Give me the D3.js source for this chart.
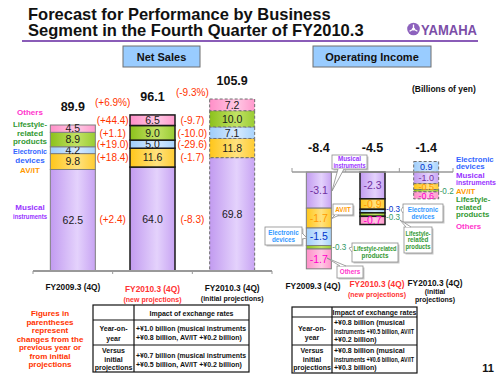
<!DOCTYPE html>
<html>
<head>
<meta charset="utf-8">
<script src="https://cdn.jsdelivr.net/npm/d3@7"></script>
<style>
  body { margin: 0; background: #fff; }
  svg { display: block; font-family: "Liberation Sans", Arial, sans-serif; }
</style>
</head>
<body>
<div id="chart"></div>
<script>
const width = 500;
const height = 375;

// segments, bottom of the stack first
const segments = ['Musical instruments', 'AV/IT', 'Electronic devices', 'Lifestyle-related products', 'Others'];
const periods = ['FY2009.3 (4Q)', 'FY2010.3 (4Q) new', 'FY2010.3 (4Q) initial'];

// Net sales, billions of yen
const salesMusical = [62.5, 64.0, 69.8];
const salesAvit = [9.8, 11.6, 11.8];
const salesElectronic = [4.2, 5.0, 7.1];
const salesLifestyle = [8.9, 9.0, 10.0];
const salesOthers = [4.5, 6.5, 7.2];
const salesTotals = [89.9, 96.1, 105.9];
const salesYoY = ['(+2.4)', '(+18.4)', '(+19.0)', '(+1.1)', '(+44.4)'];
const salesVsInitial = ['(-8.3)', '(-1.7)', '(-29.6)', '(-10.0)', '(-9.7)'];
const salesTotalChanges = ['(+6.9%)', '(-9.3%)'];

// Operating income, billions of yen
const opMusical = [-3.1, -2.3, -1.0];
const opAvit = [-1.7, -0.9, -0.5];
const opElectronic = [-1.5, -0.3, 0.9];
const opLifestyle = [-0.3, -0.3, -0.2];
const opOthers = [-1.7, -0.7, -0.6];
const opTotals = [-8.4, -4.5, -1.4];

const fxSalesRows = [
  { head: ['Year-on-', 'year'], body: ['+¥1.0 billion (musical instruments', '+¥0.8 billion, AV/IT +¥0.2 billion)'] },
  { head: ['Versus', 'initial', 'projections'], body: ['+¥0.7 billion (musical instruments', '+¥0.5 billion, AV/IT +¥0.2 billion)'] }
];
const fxOpRows = [
  { head: ['Year-on-', 'year'], body: ['+¥0.8 billion (musical', 'instruments +¥0.5 billion, AV/IT', '+¥0.2 billion)'] },
  { head: ['Versus', 'initial', 'projections'], body: ['+¥0.8 billion (musical', 'instruments +¥0.6 billion, AV/IT', '+¥0.3 billion)'] }
];

// colours
const fills = {
  'Musical instruments': ['#c29bf0', '#e4d2fc', '#c8a4f3'],
  'AV/IT': ['#ffc61a', '#ffe27f', '#ffcc33'],
  'Electronic devices': ['#9fcdfa', '#d6eaff', '#a8d3fc'],
  'Lifestyle-related products': ['#8cc11c', '#c2e265', '#99cc33'],
  'Others': ['#ff8fc8', '#ffc8e4', '#ff99cc']
};
const legendColor = {
  'Musical instruments': '#9933ff',
  'AV/IT': '#ff9900',
  'Electronic devices': '#3366ff',
  'Lifestyle-related products': '#339933',
  'Others': '#ff33cc'
};
const opValueColor = {
  'Musical instruments': '#7030a0',
  'AV/IT': '#ff9900',
  'Electronic devices': '#0033cc',
  'Lifestyle-related products': '#339966',
  'Others': '#ff00cc'
};
const barStroke = ['#7f7f7f', '#1a1a1a', '#6f6f6f'];
const barStrokeW = [1, 1.5, 1];
const barDash = [null, null, '3,2'];
const red = '#ff3300';

const svg = d3.select('#chart')
  .append('svg')
  .attr('width', width)
  .attr('height', height)
  .attr('viewBox', `0 0 ${width} ${height}`);

svg.append('rect').attr('width', width).attr('height', height).attr('fill', '#fff');

// squeeze a text into a width if it runs over
function fit(sel, maxW) {
  sel.each(function () {
    if (this.getComputedTextLength() > maxW) {
      d3.select(this).attr('textLength', maxW).attr('lengthAdjust', 'spacingAndGlyphs');
    }
  });
  return sel;
}

// gradients for the bar segments
const defs = svg.append('defs');
segments.forEach((s, i) => {
  const g = defs.append('linearGradient').attr('id', 'grad' + i)
    .attr('x1', 0).attr('x2', 1).attr('y1', 0).attr('y2', 0);
  g.append('stop').attr('offset', '0%').attr('stop-color', fills[s][0]);
  g.append('stop').attr('offset', '60%').attr('stop-color', fills[s][1]);
  g.append('stop').attr('offset', '100%').attr('stop-color', fills[s][2]);
});

// ---------- header ----------
fit(svg.append('text').attr('x', 28).attr('y', 20)
  .attr('font-size', 16.5).attr('font-weight', 'bold').attr('fill', '#111')
  .text('Forecast for Performance by Business'), 304);
fit(svg.append('text').attr('x', 28).attr('y', 36)
  .attr('font-size', 16.5).attr('font-weight', 'bold').attr('fill', '#111')
  .text('Segment in the Fourth Quarter of FY2010.3'), 337);
svg.append('line').attr('x1', 22).attr('x2', 478).attr('y1', 41).attr('y2', 41)
  .attr('stroke', '#8a5cb8').attr('stroke-width', 2);

// logo
const logo = svg.append('g').attr('transform', 'translate(413.5,29)');
logo.append('circle').attr('r', 6.3).attr('fill', '#8d62bd');
d3.range(3).forEach(k => {
  logo.append('line').attr('x1', 0).attr('y1', 0)
    .attr('x2', 4.5 * Math.cos(k * 2 * Math.PI / 3 - Math.PI / 2))
    .attr('y2', 4.5 * Math.sin(k * 2 * Math.PI / 3 - Math.PI / 2))
    .attr('stroke', '#fff').attr('stroke-width', 1.3);
});
logo.append('circle').attr('r', 1.6).attr('fill', '#fff');
svg.append('text').attr('x', 421).attr('y', 34.5)
  .attr('font-size', 14).attr('font-weight', 'bold').attr('fill', '#7b4ea8')
  .attr('textLength', 56).attr('lengthAdjust', 'spacingAndGlyphs')
  .text('YAMAHA');

// section boxes
[['Net Sales', 123, 77], ['Operating Income', 313, 118]].forEach(([t, x, w]) => {
  svg.append('rect').attr('x', x).attr('y', 46).attr('width', w).attr('height', 21)
    .attr('fill', '#99ccff').attr('stroke', '#6f6f6f').attr('stroke-width', 1);
  svg.append('text').attr('x', x + w / 2).attr('y', 60.5).attr('text-anchor', 'middle')
    .attr('font-size', 11).attr('font-weight', 'bold').attr('fill', '#111').text(t);
});

svg.append('text').attr('x', 412).attr('y', 92)
  .attr('font-size', 8.5).attr('font-weight', 'bold').attr('fill', '#111')
  .text('(Billions of yen)');

// ---------- data tables ----------
const salesTable = periods.map((p, i) => ({
  period: p,
  'Musical instruments': salesMusical[i],
  'AV/IT': salesAvit[i],
  'Electronic devices': salesElectronic[i],
  'Lifestyle-related products': salesLifestyle[i],
  'Others': salesOthers[i]
}));
const opTable = periods.map((p, i) => ({
  period: p,
  'Musical instruments': opMusical[i],
  'AV/IT': opAvit[i],
  'Electronic devices': opElectronic[i],
  'Lifestyle-related products': opLifestyle[i],
  'Others': opOthers[i]
}));

// ---------- net sales chart ----------
const xSales = d3.scalePoint().domain(periods).range([33, 272]).padding(0.5);
const ySales = d3.scaleLinear().domain([0, 100]).range([271, 108.6]);
const barW = 45;
const salesStack = d3.stack().keys(segments)(salesTable);

const salesG = svg.append('g');
salesStack.forEach((layer, si) => {
  salesG.selectAll(null)
    .data(layer)
    .join('rect')
    .attr('x', d => xSales(d.data.period) - barW / 2)
    .attr('y', d => ySales(d[1]))
    .attr('width', barW)
    .attr('height', d => ySales(d[0]) - ySales(d[1]))
    .attr('fill', `url(#grad${si})`)
    .attr('stroke', (d, i) => barStroke[i])
    .attr('stroke-width', (d, i) => barStrokeW[i])
    .attr('stroke-dasharray', (d, i) => barDash[i]);

  salesG.selectAll(null)
    .data(layer)
    .join('text')
    .attr('x', d => xSales(d.data.period))
    .attr('y', d => ySales((d[0] + d[1]) / 2) + 3.8)
    .attr('text-anchor', 'middle')
    .attr('font-size', 10.5).attr('fill', '#1a1a1a')
    .text(d => (d[1] - d[0]).toFixed(1));
});

// axis
const step = xSales.step();
svg.append('line')
  .attr('x1', xSales(periods[0]) - step / 2).attr('x2', xSales(periods[2]) + step / 2)
  .attr('y1', ySales(0)).attr('y2', ySales(0))
  .attr('stroke', '#999').attr('stroke-width', 2);
svg.selectAll(null)
  .data([0, 1, 2, 3])
  .join('line')
  .attr('x1', i => xSales(periods[0]) - step / 2 + i * step)
  .attr('x2', i => xSales(periods[0]) - step / 2 + i * step)
  .attr('y1', ySales(0)).attr('y2', ySales(0) + 3)
  .attr('stroke', '#999').attr('stroke-width', 1);

// totals
svg.selectAll(null)
  .data(salesTotals)
  .join('text')
  .attr('x', (d, i) => xSales(periods[i]))
  .attr('y', d => ySales(d) - 14)
  .attr('text-anchor', 'middle')
  .attr('font-size', 12.5).attr('font-weight', 'bold').attr('fill', '#111')
  .text(d => d.toFixed(1));

// change labels, placed between the bars at the middle of the new-projection segments
const mid = salesStack.map(layer => (layer[1][0] + layer[1][1]) / 2);
[salesYoY, salesVsInitial].forEach((labels, k) => {
  svg.selectAll(null)
    .data(labels)
    .join('text')
    .attr('x', xSales(periods[0]) + step / 2 + k * step)
    .attr('y', (d, i) => ySales(mid[i]) + 3.8)
    .attr('text-anchor', 'middle')
    .attr('font-size', 10).attr('fill', red)
    .text(d => d);
});
svg.selectAll(null)
  .data(salesTotalChanges)
  .join('text')
  .attr('x', (d, k) => xSales(periods[0]) + step / 2 + k * step)
  .attr('y', (d, k) => ySales(salesTotals[k]) - 19)
  .attr('text-anchor', 'middle')
  .attr('font-size', 10).attr('fill', red)
  .text(d => d);

// left legend
const leftLegend = [
  ['Others', ['Others'], [112]],
  ['Lifestyle-related products', ['Lifestyle-', 'related', 'products'], [124, 132.5, 141]],
  ['Electronic devices', ['Electronic', 'devices'], [151, 159.5]],
  ['AV/IT', ['AV/IT'], [170]],
  ['Musical instruments', ['Musical', 'instruments'], [207, 215.5]]
];
leftLegend.forEach(([key, lines, ys]) => {
  lines.forEach((l, i) => {
    fit(svg.append('text').attr('x', 30).attr('y', ys[i] + 3)
      .attr('text-anchor', 'middle').attr('font-size', 8).attr('font-weight', 'bold')
      .attr('fill', legendColor[key]).text(l), 34);
  });
});

// category labels
function catLabel(x, lines) {
  lines.forEach(([t, y, size, color]) => {
    svg.append('text').attr('x', x).attr('y', y).attr('text-anchor', 'middle')
      .attr('font-size', size).attr('font-weight', 'bold').attr('fill', color).text(t);
  });
}
catLabel(xSales(periods[0]), [['FY2009.3 (4Q)', 290, 8.3, '#111']]);
catLabel(xSales(periods[1]), [['FY2010.3 (4Q)', 292, 8.3, '#ff3333'], ['(new projections)', 302, 7, '#ff3333']]);
catLabel(xSales(periods[2]), [['FY2010.3 (4Q)', 291, 8.3, '#111'], ['(initial projections)', 300.5, 7, '#111']]);

// ---------- operating income chart ----------
const xOp = d3.scalePoint().domain(periods).range([292, 453]).padding(0.5);
const yOp = d3.scaleLinear().domain([0, -8.4]).range([172, 270]);
const opW = 25;
const opStack = d3.stack().keys(segments).offset(d3.stackOffsetDiverging)(opTable);

const opG = svg.append('g');
opStack.forEach((layer, si) => {
  opG.selectAll(null)
    .data(layer)
    .join('rect')
    .attr('x', d => xOp(d.data.period) - opW / 2)
    .attr('y', d => yOp(Math.max(d[0], d[1])))
    .attr('width', opW)
    .attr('height', d => Math.abs(yOp(d[0]) - yOp(d[1])))
    .attr('fill', `url(#grad${si})`)
    .attr('stroke', (d, i) => barStroke[i])
    .attr('stroke-width', (d, i) => barStrokeW[i])
    .attr('stroke-dasharray', (d, i) => barDash[i]);
});

// values inside the bars, small ones to the right
const outside = [];
opStack.forEach((layer, si) => {
  layer.forEach((d, i) => {
    const v = d.data[segments[si]];
    const ym = yOp((d[0] + d[1]) / 2);
    if (Math.abs(v) >= 0.5) {
      opG.append('text')
        .attr('x', xOp(d.data.period)).attr('y', ym + (i === 2 ? 3.2 : 3.6))
        .attr('text-anchor', 'middle').attr('font-size', i === 2 ? 9 : 10.5)
        .attr('fill', opValueColor[segments[si]])
        .text(v.toFixed(1));
    } else {
      outside.push({ i, si, v, y: ym });
    }
  });
});
d3.groups(outside, d => d.i).forEach(([, list]) => {
  list.sort((a, b) => a.y - b.y);
  for (let k = 1; k < list.length; k++) {
    if (list[k].y - list[k - 1].y < 8.5) {
      const c = (list[k].y + list[k - 1].y) / 2;
      list[k - 1].y = c - 4.25;
      list[k].y = c + 4.25;
    }
  }
});
opG.selectAll(null)
  .data(outside)
  .join('text')
  .attr('x', d => xOp(periods[d.i]) + opW / 2 + 1)
  .attr('y', d => d.y + 3.2)
  .attr('font-size', 9)
  .attr('fill', d => opValueColor[segments[d.si]])
  .text(d => d.v.toFixed(1))
  .call(fit, 14);

// axis with ticks pointing up
const opStep = xOp.step();
svg.append('line')
  .attr('x1', xOp(periods[0]) - opStep / 2).attr('x2', xOp(periods[2]) + opStep / 2)
  .attr('y1', yOp(0)).attr('y2', yOp(0))
  .attr('stroke', '#999').attr('stroke-width', 1.5);
svg.selectAll(null)
  .data([0, 1, 2, 3])
  .join('line')
  .attr('x1', i => xOp(periods[0]) - opStep / 2 + i * opStep)
  .attr('x2', i => xOp(periods[0]) - opStep / 2 + i * opStep)
  .attr('y1', yOp(0)).attr('y2', yOp(0) - 4)
  .attr('stroke', '#999').attr('stroke-width', 1);

svg.selectAll(null)
  .data(opTotals)
  .join('text')
  .attr('x', (d, i) => xOp(periods[i]))
  .attr('y', yOp(0) - 20)
  .attr('text-anchor', 'middle')
  .attr('font-size', 12.5).attr('font-weight', 'bold').attr('fill', '#111')
  .text(d => d.toFixed(1));

// callouts
function callout(x, y, w, h, lines, color, tip, base) {
  const g = svg.append('g');
  g.append('rect').attr('x', x + 1.5).attr('y', y + 1.5).attr('width', w).attr('height', h).attr('fill', '#c8c8c8');
  g.append('rect').attr('x', x).attr('y', y).attr('width', w).attr('height', h)
    .attr('fill', '#fff').attr('stroke', '#8c8c8c').attr('stroke-width', 0.8);
  g.append('path')
    .attr('d', `M${base[0][0]},${base[0][1]}L${tip[0]},${tip[1]}L${base[1][0]},${base[1][1]}`)
    .attr('fill', '#fff').attr('stroke', '#8c8c8c').attr('stroke-width', 0.8);
  const lh = 6.6;
  const y0 = y + h / 2 - (lines.length - 1) * lh / 2 + 2.2;
  lines.forEach((l, k) => {
    fit(g.append('text').attr('x', x + w / 2).attr('y', y0 + k * lh)
      .attr('text-anchor', 'middle').attr('font-size', 6.3).attr('font-weight', 'bold')
      .attr('fill', color).text(l), w - 3);
  });
}
callout(332, 155, 35, 14, ['Musical', 'instruments'], legendColor['Musical instruments'],
  [332, 191], [[338, 169], [344, 169]]);
callout(333, 204, 20, 11, ['AV/IT'], legendColor['AV/IT'],
  [331, 219], [[335, 215], [339, 215]]);
callout(265, 227, 37, 18, ['Electronic', 'devices'], '#3399ff',
  [307, 238], [[302, 233], [302, 239]]);
callout(352, 243, 46, 19, ['Lifestyle-related', 'products'], '#339933',
  [349, 248], [[352, 247], [352, 252]]);
callout(337, 266, 26, 12, ['Others'], legendColor['Others'],
  [327, 258], [[340, 266], [346, 266]]);
callout(403, 204, 40, 18, ['Electronic', 'devices'], '#3399ff',
  [401, 210], [[403, 207], [403, 213]]);
callout(404, 227, 28, 26, ['Lifestyle-', 'related', 'products'], '#339933',
  [400, 220], [[406, 227], [411, 227]]);

// right legend
const rightLegend = [
  ['Electronic devices', ['Electronic', 'devices'], [159, 166.5]],
  ['Musical instruments', ['Musical', 'instruments'], [175, 182.5]],
  ['AV/IT', ['AV/IT'], [191]],
  ['Lifestyle-related products', ['Lifestyle-', 'related', 'products'], [199.5, 207, 214.5]],
  ['Others', ['Others'], [226]]
];
rightLegend.forEach(([key, lines, ys]) => {
  lines.forEach((l, i) => {
    fit(svg.append('text').attr('x', 456).attr('y', ys[i] + 2.8)
      .attr('font-size', 7.8).attr('font-weight', 'bold')
      .attr('fill', legendColor[key]).text(l), 40);
  });
});

catLabel(313, [['FY2009.3 (4Q)', 289, 8.3, '#111']]);
catLabel(377, [['FY2010.3 (4Q)', 287, 8.3, '#ff3333'], ['(new projections)', 297, 7, '#ff3333']]);
catLabel(435, [['FY2010.3 (4Q)', 286, 8.3, '#111'], ['(initial', 294, 7, '#111'], ['projections)', 302, 7, '#111']]);

// ---------- notes and exchange-rate tables ----------
['Figures in', 'parentheses', 'represent', 'changes from the', 'previous year or', 'from initial', 'projections']
  .forEach((l, i) => {
    svg.append('text').attr('x', 50).attr('y', 316 + i * 8.5)
      .attr('text-anchor', 'middle').attr('font-size', 8).attr('font-weight', 'bold')
      .attr('fill', red).text(l);
  });

function fxTable(x, y, w, colX, rowYs, bottom, rows, headY, headLines, bodyLines) {
  const g = svg.append('g').attr('font-size', 7).attr('font-weight', 'bold').attr('fill', '#111');
  g.append('rect').attr('x', x).attr('y', y).attr('width', w).attr('height', bottom - y)
    .attr('fill', '#fff').attr('stroke', '#111').attr('stroke-width', 1.2);
  g.append('line').attr('x1', colX).attr('x2', colX).attr('y1', y).attr('y2', bottom)
    .attr('stroke', '#111').attr('stroke-width', 1.2);
  rowYs.forEach(ry => g.append('line').attr('x1', x).attr('x2', x + w).attr('y1', ry).attr('y2', ry)
    .attr('stroke', '#111').attr('stroke-width', 1.2));
  g.append('text').attr('x', (colX + x + w) / 2).attr('y', headY).attr('text-anchor', 'middle')
    .text('Impact of exchange rates');
  rows.forEach((r, k) => {
    r.head.forEach((t, j) => fit(g.append('text').attr('x', (x + colX) / 2).attr('y', headLines[k][j])
      .attr('text-anchor', 'middle').text(t), colX - x - 2));
    r.body.forEach((t, j) => fit(g.append('text').attr('x', colX + 2).attr('y', bodyLines[k][j]).text(t),
      x + w - colX - 5));
  });
}
fxTable(93, 305, 156, 134, [320, 345], 372, fxSalesRows, 315.5,
  [[331, 341], [353, 361.5, 370]], [[331, 339.5], [358, 366.5]]);
fxTable(292, 307, 125, 332, [317, 345], 373, fxOpRows, 315,
  [[331, 340], [353, 361.5, 370]], [[325, 333.5, 342], [353, 361.5, 370]]);

svg.append('text').attr('x', 488).attr('y', 372).attr('text-anchor', 'middle')
  .attr('font-size', 11).attr('font-weight', 'bold').attr('fill', '#111').text('11');
</script>
</body>
</html>
